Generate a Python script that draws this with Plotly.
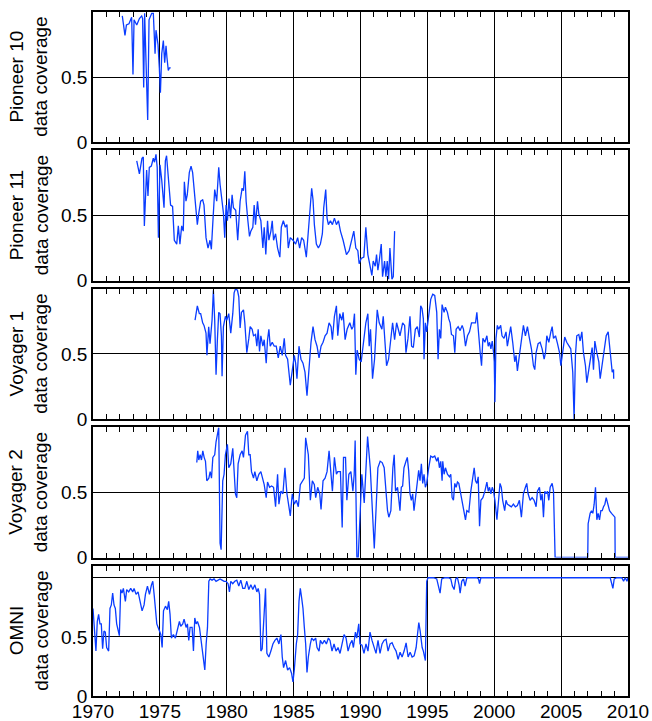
import plotly.graph_objects as go
from plotly.subplots import make_subplots

# ---------------- data ----------------
p10_year = [1972.19, 1972.39, 1972.5, 1972.69, 1972.89, 1972.99, 1973.07, 1973.27, 1973.47, 1973.64,
            1973.71, 1973.79, 1973.86, 1973.96, 1974.09, 1974.19, 1974.39, 1974.51, 1974.64, 1974.71,
            1974.86, 1974.96, 1975.04, 1975.14, 1975.26, 1975.36, 1975.46, 1975.53, 1975.63, 1975.71, 1975.81]
p10_cov = [0.97, 0.82, 0.90, 0.91, 0.96, 0.52, 0.94, 0.90, 0.95, 0.97,
           0.95, 0.42, 0.99, 0.70, 0.17, 0.94, 0.99, 0.99, 0.68, 0.86,
           0.75, 0.57, 0.38, 0.68, 0.78, 0.61, 0.74, 0.65, 0.55, 0.57, 0.57]

p11_year = [1973.27, 1973.47, 1973.66, 1973.76, 1973.84, 1974.01, 1974.11, 1974.21, 1974.36, 1974.51,
            1974.6, 1974.71, 1974.8, 1974.89, 1975.01, 1975.14, 1975.31, 1975.41, 1975.5, 1975.58,
            1975.7, 1975.8, 1975.95, 1976.08, 1976.26, 1976.38, 1976.5, 1976.63, 1976.75, 1976.83,
            1976.95, 1977.05, 1977.2, 1977.33, 1977.45, 1977.6, 1977.7, 1977.8, 1977.9, 1978.05,
            1978.2, 1978.3, 1978.45, 1978.6, 1978.75, 1978.85, 1978.95, 1979.1, 1979.25, 1979.4,
            1979.5, 1979.65, 1979.75, 1979.85, 1979.95, 1980.05, 1980.17, 1980.28, 1980.4, 1980.5,
            1980.67, 1980.82, 1981.0, 1981.15, 1981.25, 1981.35, 1981.45, 1981.58, 1981.7, 1981.8,
            1981.95, 1982.05, 1982.15, 1982.3, 1982.4, 1982.55, 1982.7, 1982.8, 1982.92, 1983.05,
            1983.15, 1983.3, 1983.4, 1983.5, 1983.65, 1983.8, 1983.97, 1984.08, 1984.23, 1984.38,
            1984.5, 1984.6, 1984.75, 1984.95, 1985.15, 1985.3, 1985.45, 1985.6, 1985.75, 1985.95,
            1986.1, 1986.25, 1986.35, 1986.45, 1986.55, 1986.7, 1986.85, 1987.0, 1987.15, 1987.25,
            1987.4, 1987.5, 1987.6, 1987.75, 1987.9, 1988.05, 1988.2, 1988.35, 1988.5, 1988.7,
            1988.95, 1989.15, 1989.35, 1989.5, 1989.65, 1989.8, 1989.9, 1990.05, 1990.25, 1990.4,
            1990.55, 1990.7, 1990.85, 1990.95, 1991.1, 1991.2, 1991.3, 1991.4, 1991.55, 1991.65,
            1991.8, 1991.9, 1992.0, 1992.1, 1992.2, 1992.35, 1992.45, 1992.55]
p11_cov = [0.92, 0.82, 0.94, 0.95, 0.42, 0.85, 0.65, 0.87, 0.88, 0.94,
           0.91, 0.97, 0.87, 0.33, 0.89, 0.77, 0.56, 0.92, 0.96, 0.84,
           0.69, 0.58, 0.57, 0.31, 0.28, 0.42, 0.28, 0.42, 0.38, 0.76,
           0.61, 0.66, 0.83, 0.88, 0.83, 0.66, 0.56, 0.43, 0.51, 0.61,
           0.62, 0.58, 0.33, 0.25, 0.31, 0.24, 0.43, 0.70, 0.61, 0.87,
           0.74, 0.58, 0.52, 0.33, 0.58, 0.46, 0.63, 0.48, 0.66, 0.56,
           0.54, 0.31, 0.61, 0.71, 0.69, 0.84, 0.61, 0.46, 0.34, 0.38,
           0.41, 0.58, 0.43, 0.61, 0.51, 0.46, 0.25, 0.41, 0.20, 0.46,
           0.31, 0.38, 0.46, 0.31, 0.36, 0.25, 0.18, 0.41, 0.46, 0.41,
           0.43, 0.25, 0.33, 0.31, 0.28, 0.33, 0.25, 0.33, 0.31, 0.18,
           0.41, 0.61, 0.71, 0.62, 0.43, 0.28, 0.25, 0.28, 0.36, 0.56,
           0.70, 0.48, 0.43, 0.46, 0.43, 0.48, 0.43, 0.46, 0.38, 0.31,
           0.20, 0.23, 0.33, 0.38, 0.25, 0.23, 0.13, 0.17, 0.18, 0.41,
           0.20, 0.11, 0.04, 0.15, 0.11, 0.20, 0.08, 0.15, 0.28, 0.03,
           0.15, 0.03, 0.15, 0.01, 0.25, 0.01, 0.03, 0.38]

v1_year = [1977.63, 1977.8, 1977.95, 1978.05, 1978.2, 1978.3, 1978.45, 1978.52, 1978.65, 1978.75,
           1978.9, 1979.0, 1979.1, 1979.2, 1979.3, 1979.4, 1979.5, 1979.6, 1979.65, 1979.75,
           1979.9, 1980.0, 1980.15, 1980.3, 1980.45, 1980.55, 1980.65, 1980.8, 1980.9, 1981.0,
           1981.1, 1981.25, 1981.35, 1981.5, 1981.65, 1981.75, 1981.9, 1982.0, 1982.15, 1982.25,
           1982.35, 1982.45, 1982.55, 1982.7, 1982.8, 1982.95, 1983.05, 1983.15, 1983.25, 1983.4,
           1983.55, 1983.7, 1983.85, 1984.0, 1984.15, 1984.3, 1984.4, 1984.55, 1984.75, 1984.9,
           1985.05, 1985.15, 1985.25, 1985.4, 1985.55, 1985.7, 1985.85, 1986.0, 1986.15, 1986.3,
           1986.45, 1986.6, 1986.75, 1986.9, 1987.05, 1987.2, 1987.35, 1987.5, 1987.65, 1987.8,
           1987.9, 1988.05, 1988.2, 1988.3, 1988.45, 1988.6, 1988.7, 1988.85, 1989.0, 1989.2,
           1989.35, 1989.45, 1989.55, 1989.65, 1989.75, 1989.9, 1990.05, 1990.2, 1990.4, 1990.55,
           1990.65, 1990.75, 1990.9, 1991.05, 1991.25, 1991.4, 1991.6, 1991.7, 1991.8, 1991.95,
           1992.1, 1992.25, 1992.4, 1992.55, 1992.7,
           1992.95, 1993.15, 1993.3, 1993.4, 1993.55, 1993.7, 1993.82, 1993.95, 1994.1, 1994.25,
           1994.4, 1994.5, 1994.6, 1994.7, 1994.75, 1994.85, 1994.95, 1995.1, 1995.25, 1995.4,
           1995.55, 1995.7, 1995.8, 1995.9, 1996.0, 1996.1, 1996.25, 1996.35, 1996.5, 1996.6,
           1996.7, 1996.8, 1996.95, 1997.05, 1997.15, 1997.3, 1997.45, 1997.6, 1997.7, 1997.85,
           1998.0, 1998.15, 1998.3, 1998.45, 1998.6, 1998.7, 1998.8, 1998.95, 1999.05, 1999.15,
           1999.3, 1999.45, 1999.55, 1999.65, 1999.75, 1999.85, 1999.95, 2000.0, 2000.05, 2000.13,
           2000.23, 2000.33, 2000.48, 2000.58, 2000.73, 2000.88, 2000.98, 2001.08, 2001.23, 2001.38,
           2001.53, 2001.63, 2001.73, 2001.88, 2002.03, 2002.18, 2002.33, 2002.48, 2002.63, 2002.78,
           2002.93, 2003.03, 2003.13, 2003.28, 2003.43, 2003.58, 2003.73, 2003.83, 2003.93, 2004.08,
           2004.23, 2004.33, 2004.43, 2004.58, 2004.73, 2004.88, 2004.98, 2005.12, 2005.27, 2005.42,
           2005.57, 2005.72, 2005.87, 2005.97, 2006.07, 2006.17, 2006.32, 2006.42, 2006.55, 2006.67,
           2006.82, 2006.92, 2007.07, 2007.22, 2007.32, 2007.42, 2007.52, 2007.67, 2007.82, 2007.92,
           2008.07, 2008.22, 2008.37, 2008.52, 2008.62, 2008.72, 2008.82, 2008.92, 2008.93]
v1_cov = [0.76, 0.87, 0.81, 0.81, 0.74, 0.72, 0.66, 0.49, 0.71, 0.58,
          0.76, 0.99, 0.76, 0.34, 0.61, 0.82, 0.81, 0.64, 0.33, 0.71,
          0.79, 0.76, 0.81, 0.66, 0.81, 0.97, 1.00, 0.99, 0.94, 0.70,
          0.82, 0.84, 0.74, 0.51, 0.62, 0.71, 0.69, 0.64, 0.65, 0.56,
          0.69, 0.52, 0.64, 0.56, 0.61, 0.43, 0.61, 0.69, 0.56, 0.59,
          0.56, 0.56, 0.47, 0.56, 0.49, 0.62, 0.49, 0.46, 0.26, 0.39,
          0.49, 0.43, 0.31, 0.56, 0.46, 0.43, 0.36, 0.18, 0.43, 0.59,
          0.71, 0.61, 0.56, 0.47, 0.56, 0.59, 0.64, 0.66, 0.74, 0.71,
          0.61, 0.79, 0.87, 0.64, 0.81, 0.76, 0.82, 0.61, 0.69, 0.74,
          0.69, 0.71, 0.81, 0.34, 0.53, 0.46, 0.44, 0.58, 0.74, 0.81,
          0.56, 0.69, 0.31, 0.46, 0.84, 0.74, 0.69, 0.79, 0.61, 0.41,
          0.46, 0.61, 0.74, 0.61, 0.74,
          0.64, 0.74, 0.72, 0.51, 0.62, 0.79, 0.56, 0.55, 0.69, 0.71,
          0.63, 0.87, 0.85, 0.77, 0.46, 0.74, 0.67, 0.79, 0.92, 0.96,
          0.95, 0.82, 0.46, 0.69, 0.62, 0.88, 0.82, 0.86, 0.82, 0.77,
          0.74, 0.65, 0.64, 0.51, 0.69, 0.71, 0.68, 0.72, 0.69, 0.56,
          0.64, 0.67, 0.74, 0.74, 0.74, 0.82, 0.67, 0.51, 0.41, 0.62,
          0.59, 0.64, 0.56, 0.59, 0.54, 0.60, 0.51, 0.44, 0.13, 0.62,
          0.72, 0.69, 0.72, 0.64, 0.62, 0.67, 0.56, 0.62, 0.71, 0.59,
          0.44, 0.49, 0.37, 0.49, 0.59, 0.72, 0.64, 0.71, 0.62, 0.54,
          0.41, 0.38, 0.51, 0.58, 0.59, 0.54, 0.46, 0.51, 0.64, 0.59,
          0.67, 0.71, 0.62, 0.64, 0.58, 0.51, 0.41, 0.51, 0.63, 0.59,
          0.56, 0.54, 0.36, 0.00, 0.49, 0.64, 0.65, 0.60, 0.67, 0.51,
          0.41, 0.28, 0.38, 0.51, 0.55, 0.38, 0.60, 0.51, 0.44, 0.31,
          0.41, 0.51, 0.64, 0.67, 0.56, 0.49, 0.36, 0.38, 0.31]

v2_year = [1977.76, 1977.83, 1977.91, 1978.01, 1978.11, 1978.21, 1978.31, 1978.41, 1978.51, 1978.66,
           1978.76, 1978.86, 1978.96, 1979.1, 1979.2, 1979.3, 1979.4, 1979.5, 1979.58, 1979.7,
           1979.8, 1979.9, 1980.05, 1980.15, 1980.3, 1980.45, 1980.55, 1980.65, 1980.75, 1980.85,
           1981.0, 1981.15, 1981.25, 1981.4, 1981.55, 1981.65, 1981.75, 1981.85, 1982.0, 1982.1,
           1982.25, 1982.4, 1982.55, 1982.7, 1982.8, 1982.95, 1983.05, 1983.2, 1983.35, 1983.5,
           1983.65, 1983.8, 1983.9, 1984.05, 1984.2, 1984.35, 1984.5, 1984.65, 1984.75, 1984.9,
           1985.05, 1985.2, 1985.35, 1985.5, 1985.65, 1985.8, 1985.9, 1986.0, 1986.1, 1986.25,
           1986.4, 1986.55, 1986.65, 1986.8, 1986.95, 1987.05, 1987.2, 1987.35, 1987.5, 1987.65,
           1987.8, 1987.9, 1988.05, 1988.2, 1988.3, 1988.5, 1988.63, 1988.73, 1988.88, 1988.98,
           1989.13, 1989.28, 1989.43, 1989.53, 1989.6, 1989.73, 1989.83, 1989.93, 1990.1, 1990.28,
           1990.53, 1990.73, 1990.88, 1991.03, 1991.18, 1991.3, 1991.47, 1991.62, 1991.77, 1991.92,
           1992.02, 1992.12, 1992.27, 1992.42, 1992.52, 1992.62, 1992.77,
           1992.95, 1993.05, 1993.15, 1993.25, 1993.4, 1993.5, 1993.6, 1993.7, 1993.8, 1993.9,
           1994.0, 1994.15, 1994.25, 1994.35, 1994.45, 1994.55, 1994.65, 1994.75, 1994.85, 1994.95,
           1995.1, 1995.25, 1995.4, 1995.55, 1995.7, 1995.8, 1995.9, 1996.0, 1996.1, 1996.15,
           1996.25, 1996.35, 1996.5, 1996.65, 1996.75, 1996.85, 1996.95, 1997.05, 1997.15, 1997.25,
           1997.35, 1997.45, 1997.6, 1997.7, 1997.85, 1997.95, 1998.1, 1998.25, 1998.35, 1998.5,
           1998.6, 1998.7, 1998.8, 1998.9, 1999.0, 1999.15, 1999.3, 1999.45, 1999.55, 1999.65,
           1999.75, 1999.85, 1999.95, 2000.05, 2000.2, 2000.33, 2000.43, 2000.53, 2000.63, 2000.78,
           2000.88, 2000.98, 2001.13, 2001.28, 2001.43, 2001.58, 2001.73, 2001.88, 2002.03, 2002.18,
           2002.33, 2002.43, 2002.53, 2002.68, 2002.83, 2002.98, 2003.13, 2003.23, 2003.38, 2003.48,
           2003.58, 2003.68, 2003.78, 2003.88, 2003.98, 2004.08, 2004.18, 2004.33, 2004.43, 2004.55,
           2006.99, 2007.02, 2007.17, 2007.27, 2007.37, 2007.47, 2007.57, 2007.67, 2007.77, 2007.87,
           2007.97, 2008.07, 2008.17, 2008.27, 2008.37, 2008.47, 2008.62, 2008.77, 2008.92, 2009.02,
           2009.04, 2010.0]
v2_cov = [0.73, 0.82, 0.75, 0.79, 0.75, 0.82, 0.77, 0.74, 0.59, 0.61,
          0.66, 0.61, 0.77, 0.79, 0.89, 0.94, 1.00, 0.11, 0.06, 0.59,
          0.64, 0.79, 0.87, 0.69, 0.72, 0.84, 0.69, 0.49, 0.46, 0.72,
          0.79, 0.82, 0.77, 0.94, 0.97, 0.79, 0.79, 0.66, 0.61, 0.66,
          0.59, 0.64, 0.66, 0.59, 0.56, 0.46, 0.58, 0.54, 0.55, 0.54,
          0.39, 0.64, 0.41, 0.51, 0.49, 0.69, 0.49, 0.39, 0.32, 0.49,
          0.41, 0.44, 0.39, 0.56, 0.59, 0.61, 0.92, 0.84, 0.79, 0.44,
          0.59, 0.56, 0.46, 0.54, 0.49, 0.37, 0.59, 0.61, 0.66, 0.82,
          0.66, 0.51, 0.77, 0.64, 0.66, 0.66, 0.23, 0.77, 0.77, 0.44,
          0.64, 0.66, 0.51, 0.64, 0.90, 0.00, 0.00, 0.28, 0.64, 0.42,
          0.93, 0.69, 0.41, 0.07, 0.41, 0.69, 0.74, 0.73, 0.69, 0.49,
          0.36, 0.31, 0.36, 0.69, 0.79, 0.51, 0.54,
          0.36, 0.54, 0.55, 0.69, 0.74, 0.77, 0.67, 0.49, 0.44, 0.49,
          0.36, 0.49, 0.59, 0.67, 0.59, 0.72, 0.57, 0.64, 0.54, 0.57,
          0.69, 0.78, 0.77, 0.78, 0.74, 0.77, 0.69, 0.74, 0.59, 0.74,
          0.64, 0.69, 0.64, 0.62, 0.64, 0.46, 0.44, 0.57, 0.54, 0.58,
          0.57, 0.51, 0.44, 0.36, 0.29, 0.36, 0.35, 0.51, 0.59, 0.69,
          0.59, 0.57, 0.62, 0.24, 0.44, 0.46, 0.51, 0.58, 0.51, 0.54,
          0.49, 0.54, 0.51, 0.44, 0.29, 0.49, 0.57, 0.54, 0.44, 0.36,
          0.44, 0.41, 0.40, 0.39, 0.41, 0.39, 0.40, 0.44, 0.31, 0.49,
          0.54, 0.57, 0.49, 0.44, 0.46, 0.44, 0.39, 0.51, 0.54, 0.44,
          0.49, 0.31, 0.51, 0.49, 0.51, 0.44, 0.54, 0.57, 0.51, 0.00,
          0.00, 0.26, 0.34, 0.36, 0.34, 0.41, 0.54, 0.29, 0.34, 0.29,
          0.36, 0.36, 0.39, 0.41, 0.46, 0.41, 0.36, 0.34, 0.32, 0.31,
          0.00, 0.00]

omni_year = [1970.0, 1970.1, 1970.22, 1970.32, 1970.42, 1970.52, 1970.62, 1970.72, 1970.82, 1970.92,
             1971.02, 1971.17, 1971.27, 1971.37, 1971.47, 1971.57, 1971.67, 1971.77, 1971.87, 1971.97,
             1972.07, 1972.17, 1972.27, 1972.42, 1972.52, 1972.67, 1972.82, 1972.97, 1973.07, 1973.22,
             1973.37, 1973.52, 1973.67, 1973.82, 1973.92, 1974.07, 1974.22, 1974.37, 1974.47, 1974.57,
             1974.67, 1974.77, 1974.87, 1974.97, 1975.07, 1975.17, 1975.27, 1975.42, 1975.56, 1975.66,
             1975.76, 1975.86, 1976.01, 1976.16, 1976.31, 1976.46, 1976.56, 1976.71, 1976.81, 1976.96,
             1977.06, 1977.16, 1977.26, 1977.41, 1977.51, 1977.61, 1977.71, 1977.81, 1977.96, 1978.06,
             1978.16, 1978.26, 1978.36, 1978.46, 1978.56, 1978.66, 1978.76, 1978.9, 1979.05, 1979.2,
             1979.35, 1979.5, 1979.65, 1979.8, 1979.95, 1980.1, 1980.2, 1980.3, 1980.45, 1980.6,
             1980.75, 1980.9, 1981.05, 1981.2, 1981.35, 1981.5, 1981.65, 1981.8, 1981.95, 1982.1,
             1982.25, 1982.35, 1982.45, 1982.55, 1982.65, 1982.75, 1982.9, 1983.0, 1983.15, 1983.3,
             1983.45, 1983.6, 1983.75, 1983.9, 1984.05, 1984.15, 1984.25, 1984.4, 1984.55, 1984.7,
             1984.85, 1984.95, 1985.05, 1985.2, 1985.3, 1985.4, 1985.5, 1985.6, 1985.7, 1985.8,
             1985.9, 1986.0, 1986.1, 1986.25, 1986.35, 1986.5, 1986.65, 1986.75, 1986.9, 1987.0,
             1987.15, 1987.3, 1987.45, 1987.6, 1987.72, 1987.87, 1988.02, 1988.17, 1988.32, 1988.47,
             1988.62, 1988.77, 1988.92, 1989.07, 1989.22, 1989.37, 1989.47, 1989.62, 1989.72, 1989.87,
             1989.96, 1990.11, 1990.26, 1990.41, 1990.56, 1990.71, 1990.86, 1991.01, 1991.16, 1991.31,
             1991.46, 1991.61, 1991.76, 1991.91, 1992.06, 1992.21, 1992.36, 1992.51, 1992.66, 1992.81,
             1992.96, 1993.11, 1993.26, 1993.41, 1993.56, 1993.71, 1993.86, 1994.01, 1994.16, 1994.26,
             1994.36, 1994.46, 1994.61, 1994.7, 1994.85, 1994.95, 1995.05, 1995.2, 1995.45, 1995.7,
             1995.82, 1995.95, 1996.07, 1996.32, 1996.57, 1996.75, 1996.87, 1997.0, 1997.12, 1997.25,
             1997.37, 1997.45, 1997.57, 1997.7, 1997.82, 1997.95, 1998.7, 1998.82, 1998.9, 1999.0,
             2008.67, 2008.77, 2008.87, 2008.97, 2009.17, 2009.54, 2009.67, 2009.79, 2009.92, 2010.0]
omni_cov = [0.74, 0.58, 0.38, 0.63, 0.69, 0.61, 0.61, 0.40, 0.55, 0.54,
            0.41, 0.38, 0.74, 0.77, 0.87, 0.77, 0.74, 0.61, 0.55, 0.51,
            0.90, 0.87, 0.91, 0.80, 0.90, 0.88, 0.91, 0.88, 0.91, 0.86,
            0.88, 0.80, 0.72, 0.77, 0.86, 0.93, 0.86, 0.94, 0.97, 0.86,
            0.72, 0.61, 0.58, 0.54, 0.52, 0.41, 0.72, 0.76, 0.73, 0.80,
            0.69, 0.49, 0.52, 0.49, 0.55, 0.63, 0.59, 0.61, 0.65, 0.58,
            0.61, 0.47, 0.58, 0.58, 0.38, 0.66, 0.61, 0.63, 0.58, 0.49,
            0.41, 0.30, 0.22, 0.44, 0.58, 0.97, 0.99, 0.98, 0.99, 0.97,
            0.98, 0.99, 0.98, 0.97, 0.97, 0.95, 0.88, 0.97, 0.95, 0.97,
            0.98, 0.93, 0.98, 0.91, 0.91, 0.97, 0.90, 0.94, 0.90, 0.94,
            0.88, 0.91, 0.86, 0.38, 0.40, 0.63, 0.91, 0.36, 0.33, 0.38,
            0.44, 0.47, 0.49, 0.44, 0.52, 0.33, 0.24, 0.30, 0.22, 0.24,
            0.19, 0.12, 0.22, 0.44, 0.52, 0.80, 0.91, 0.83, 0.74, 0.58,
            0.44, 0.20, 0.33, 0.44, 0.49, 0.47, 0.49, 0.41, 0.38, 0.47,
            0.44, 0.47, 0.44, 0.49, 0.47, 0.38, 0.44, 0.38, 0.41, 0.36,
            0.44, 0.52, 0.49, 0.38, 0.44, 0.47, 0.41, 0.54, 0.49, 0.61,
            0.44, 0.43, 0.36, 0.44, 0.38, 0.54, 0.47, 0.41, 0.36, 0.47,
            0.36, 0.44, 0.47, 0.48, 0.38, 0.44, 0.45, 0.41, 0.38, 0.31,
            0.37, 0.33, 0.38, 0.45, 0.33, 0.37, 0.33, 0.34, 0.41, 0.52,
            0.62, 0.55, 0.41, 0.38, 0.30, 0.97, 1.00, 1.00, 1.00, 0.99,
            0.94, 0.87, 0.99, 1.00, 1.00, 0.99, 0.93, 0.90, 0.99, 1.00,
            0.94, 0.87, 0.97, 0.99, 0.93, 1.00, 1.00, 0.99, 0.95, 1.00,
            1.00, 0.95, 0.91, 0.99, 1.00, 1.00, 0.97, 1.00, 0.97, 1.00]

series_names = ["Pioneer 10", "Pioneer 11", "Voyager 1", "Voyager 2", "OMNI"]
series_x = [p10_year, p11_year, v1_year, v2_year, omni_year]
series_y = [p10_cov, p11_cov, v1_cov, v2_cov, omni_cov]
y_ranges = [[0, 1], [0, 1], [0, 1], [0, 1], [0, 1.1]]

# ---------------- figure ----------------
FONT = "Liberation Sans, Arial, Helvetica, sans-serif"
LINE_COLOR = "#0a3cff"

fig = make_subplots(rows=5, cols=1, vertical_spacing=0.0123)

for i in range(5):
    fig.add_trace(go.Scatter(x=series_x[i], y=series_y[i], mode="lines",
                             line=dict(color=LINE_COLOR, width=1.3),
                             showlegend=False, hoverinfo="skip"),
                  row=i + 1, col=1)
    last = (i == 4)
    yt = [0, 0.5, 1] if last else [0, 0.5]
    ytt = ["0", "0.5", ""] if last else ["0", "0.5"]
    fig.update_xaxes(row=i + 1, col=1,
                     range=[1970, 2010], tickmode="linear", tick0=1970, dtick=5,
                     tickformat="d",
                     showticklabels=last,
                     showgrid=True, gridcolor="black", gridwidth=1,
                     zeroline=False,
                     showline=True, linecolor="black", linewidth=1.6, mirror="ticks",
                     ticks="inside", ticklen=5, tickcolor="black", tickwidth=1.3,
                     minor=dict(dtick=1, tick0=1970, ticks="inside", ticklen=5,
                                tickcolor="black", tickwidth=1.3, showgrid=False),
                     tickfont=dict(family=FONT, size=19, color="black"),
                     ticklabelstandoff=-3,
                     automargin=False)
    fig.update_yaxes(row=i + 1, col=1,
                     range=y_ranges[i], tickmode="array", tickvals=yt, ticktext=ytt,
                     showgrid=True, gridcolor="black", gridwidth=1,
                     zeroline=False,
                     showline=True, linecolor="black", linewidth=1.6, mirror=True,
                     ticks="",
                     tickfont=dict(family=FONT, size=19, color="black"))

# y-titles as annotations centred on each panel
for i in range(5):
    yname = "yaxis" if i == 0 else "yaxis%d" % (i + 1)
    dom = fig.layout[yname].domain
    ymid = (dom[0] + dom[1]) / 2
    fig.add_annotation(text=series_names[i] + "<br>data coverage",
                       xref="paper", yref="paper", x=-0.12, y=ymid,
                       xanchor="center", yanchor="middle", textangle=-90,
                       showarrow=False,
                       font=dict(family=FONT, size=19, color="black"))

fig.update_layout(template="none", width=652, height=721,
                  margin=dict(l=93, r=24, t=12, b=25),
                  paper_bgcolor="white", plot_bgcolor="white",
                  showlegend=False,
                  font=dict(family=FONT, size=19, color="black"))

fig.write_html("out.html")
